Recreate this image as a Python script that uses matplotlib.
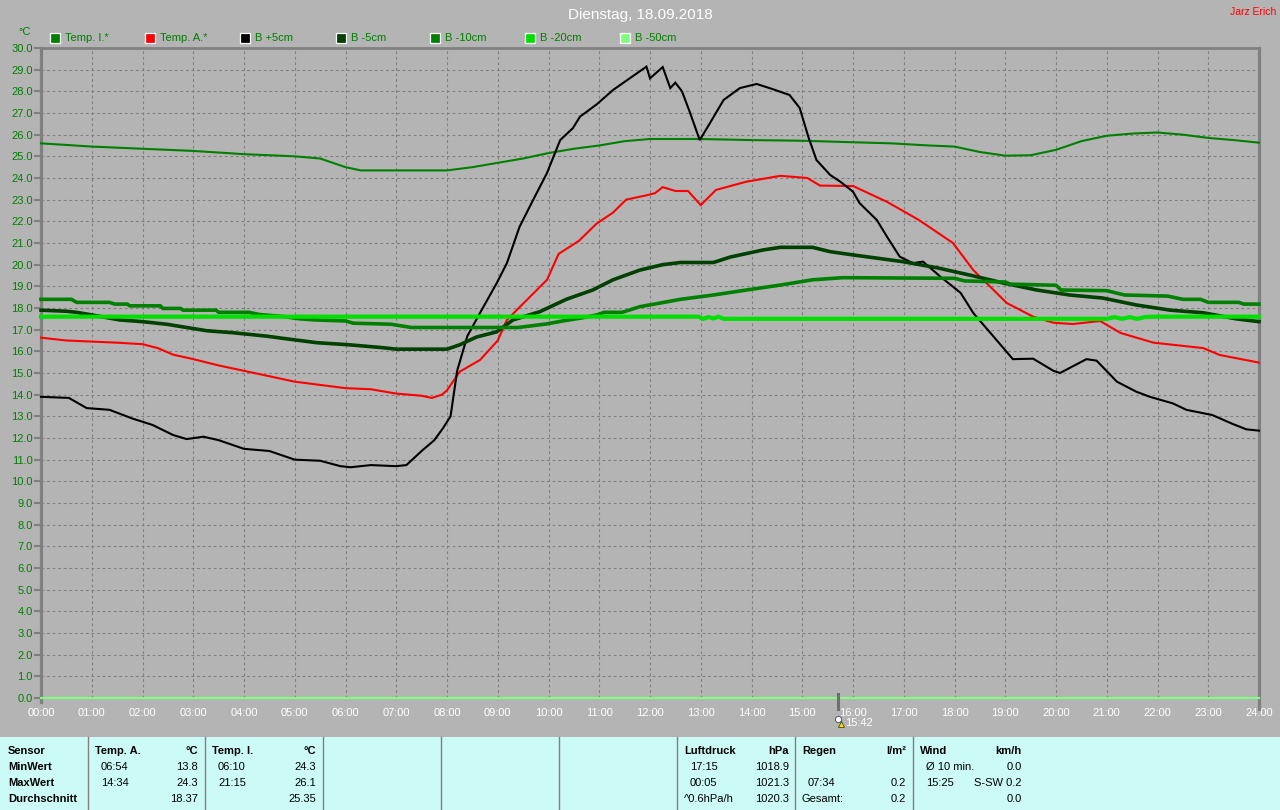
import matplotlib
matplotlib.use("Agg")
import matplotlib.pyplot as plt
from matplotlib.patches import Rectangle
from matplotlib.lines import Line2D

plt.rcParams['font.family'] = ['Liberation Sans', 'DejaVu Sans']

# ---------------- data ----------------
title = "Dienstag, 18.09.2018"
author = "Jarz Erich"
hour_labels = ["%02d:00" % h for h in range(25)]
y_ticks = list(range(31))

series_names = ["Temp. I.*", "Temp. A.*", "B +5cm", "B -5cm", "B -10cm", "B -20cm", "B -50cm"]
series_colors = ["#008000", "#ff0000", "#000000", "#004000", "#008000", "#00e000", "#80ff80"]

t_ti = [0, 1, 2, 3, 4, 5, 5.5, 5.75, 6.0, 6.3, 7, 8, 8.5, 9, 9.5, 10, 10.5, 11, 11.5, 12, 13,
        14, 15, 16, 16.75, 17.5, 18, 18.5, 19, 19.5, 20, 20.5, 21, 21.5, 22, 22.5, 23, 23.5, 24]
v_ti = [25.6, 25.45, 25.35, 25.25, 25.1, 25.0, 24.9, 24.7, 24.5, 24.35, 24.35, 24.35, 24.5, 24.7,
        24.9, 25.15, 25.35, 25.5, 25.7, 25.8, 25.8, 25.75, 25.72, 25.65, 25.6, 25.5, 25.45, 25.2,
        25.03, 25.05, 25.3, 25.7, 25.95, 26.05, 26.1, 26.0, 25.85, 25.75, 25.63]

t_ta = [0, 0.5, 1, 1.5, 2, 2.3, 2.6, 3, 3.5, 4, 4.5, 5, 5.5, 6, 6.5, 7, 7.5, 7.7, 7.9, 8.0, 8.25,
        8.65, 9.0, 9.18, 9.5, 9.97, 10.2, 10.6, 10.95, 11.27, 11.53, 11.93, 12.1, 12.25, 12.5,
        12.75, 13.0, 13.3, 13.9, 14.57, 15.1, 15.35, 16.0, 16.67, 17.3, 17.97, 18.37, 18.77,
        19.03, 19.55, 19.95, 20.33, 20.87, 21.27, 21.92, 22.9, 23.23, 24]
v_ta = [16.63, 16.5, 16.45, 16.4, 16.33, 16.15, 15.85, 15.64, 15.35, 15.1, 14.85, 14.6, 14.45,
        14.3, 14.25, 14.05, 13.95, 13.85, 14.0, 14.2, 15.06, 15.6, 16.5, 17.45, 18.2, 19.3, 20.5,
        21.1, 21.9, 22.4, 23.0, 23.2, 23.3, 23.58, 23.4, 23.4, 22.75, 23.45, 23.83, 24.1, 24.0,
        23.65, 23.63, 22.9, 22.06, 21.0, 19.75, 18.83, 18.23, 17.6, 17.32, 17.26, 17.4, 16.85,
        16.4, 16.15, 15.83, 15.48]

t_b5 = [0, 0.55, 0.9, 1.35, 1.8, 2.2, 2.6, 2.87, 3.2, 3.5, 4, 4.5, 5, 5.5, 5.9, 6.1, 6.5, 7, 7.2,
        7.5, 7.75, 7.92, 8.07, 8.2, 8.4, 8.65, 8.98, 9.18, 9.43, 9.7, 9.97, 10.23, 10.48, 10.62,
        10.95, 11.27, 11.6, 11.93, 12.0, 12.25, 12.4, 12.5, 12.63, 12.78, 12.98, 13.18, 13.45,
        13.77, 14.1, 14.42, 14.75, 14.95, 15.12, 15.28, 15.55, 15.75, 16.0, 16.13, 16.47, 16.67,
        16.92, 17.18, 17.38, 17.72, 18.12, 18.37, 18.77, 19.15, 19.55, 19.95, 20.08, 20.6, 20.8,
        21.2, 21.58, 21.85, 22.3, 22.57, 23.08, 23.48, 23.75, 24]
v_b5 = [13.9, 13.85, 13.38, 13.3, 12.9, 12.6, 12.14, 11.95, 12.06, 11.9, 11.5, 11.4, 11.0, 10.95,
        10.7, 10.65, 10.75, 10.7, 10.75, 11.4, 11.9, 12.45, 13.0, 15.1, 16.7, 17.77, 19.15, 20.07,
        21.75, 23.0, 24.23, 25.75, 26.3, 26.83, 27.4, 28.06, 28.6, 29.14, 28.6, 29.12, 28.15,
        28.4, 28.0, 27.07, 25.75, 26.53, 27.6, 28.15, 28.34, 28.1, 27.83, 27.23, 25.9, 24.83,
        24.14, 23.83, 23.37, 22.84, 22.06, 21.29, 20.37, 20.07, 20.14, 19.45, 18.7, 17.77, 16.68,
        15.64, 15.66, 15.1, 15.0, 15.64, 15.57, 14.6, 14.14, 13.9, 13.6, 13.3, 13.06, 12.65,
        12.4, 12.34]

t_bm5 = [0, 0.5, 0.7, 1.0, 1.55, 2.0, 2.48, 2.87, 3.27, 3.78, 4.45, 4.83, 5.43, 6.08, 6.73, 7.0,
         8.0, 8.25, 8.58, 8.98, 9.3, 9.83, 10.35, 10.87, 11.27, 11.8, 12.25, 12.6, 13.25, 13.58,
         14.23, 14.57, 15.2, 15.55, 16.0, 16.98, 17.65, 18.3, 18.97, 19.62, 20.27, 20.92, 21.58,
         22.25, 22.9, 23.55, 24]
v_bm5 = [17.9, 17.85, 17.8, 17.68, 17.45, 17.37, 17.25, 17.1, 16.95, 16.86, 16.7, 16.58, 16.4,
         16.3, 16.17, 16.1, 16.1, 16.3, 16.66, 16.9, 17.45, 17.83, 18.4, 18.83, 19.3, 19.75, 20.0,
         20.1, 20.1, 20.35, 20.68, 20.8, 20.8, 20.6, 20.45, 20.14, 19.86, 19.52, 19.15, 18.83,
         18.6, 18.46, 18.14, 17.9, 17.78, 17.5, 17.37]

t_bm10 = [0, 0.6, 0.7, 1.35, 1.45, 1.7, 1.75, 2.35, 2.4, 2.75, 2.8, 3.45, 3.5, 4.1, 4.3, 4.8, 5.1,
          5.4, 6.0, 6.15, 6.9, 7.3, 9.4, 9.95, 10.3, 10.65, 10.95, 11.1, 11.45, 11.8, 12.25, 12.6,
          13.25, 13.9, 14.57, 15.2, 15.8, 18.0, 18.2, 19.0, 19.1, 20.0, 20.1, 21.0, 21.35, 22.2,
          22.5, 22.85, 23.0, 23.6, 23.7, 24]
v_bm10 = [18.4, 18.4, 18.26, 18.26, 18.18, 18.18, 18.1, 18.1, 17.98, 17.98, 17.9, 17.9, 17.8,
          17.8, 17.7, 17.6, 17.5, 17.45, 17.4, 17.3, 17.25, 17.1, 17.1, 17.26, 17.41, 17.54,
          17.68, 17.8, 17.8, 18.06, 18.25, 18.4, 18.6, 18.83, 19.06, 19.3, 19.4, 19.37, 19.25,
          19.2, 19.1, 19.05, 18.83, 18.8, 18.6, 18.55, 18.4, 18.4, 18.26, 18.26, 18.18, 18.18]

t_bm20 = [0, 12.95, 13.05, 13.15, 13.25, 13.35, 13.45, 13.6, 21.0, 21.15, 21.3, 21.45, 21.6,
          21.75, 21.9, 24]
v_bm20 = [17.6, 17.6, 17.5, 17.58, 17.52, 17.6, 17.5, 17.5, 17.5, 17.58, 17.5, 17.58, 17.5,
          17.58, 17.6, 17.6]

t_bm50 = [0, 24]
v_bm50 = [0.0, 0.0]

marker_time = 15.7
marker_label = "15:42"

table_rows = ["Sensor", "MinWert", "MaxWert", "Durchschnitt"]
ta_col = [("Temp. A.", "°C"), ("06:54", "13.8"), ("14:34", "24.3"), ("", "18.37")]
ti_col = [("Temp. I.", "°C"), ("06:10", "24.3"), ("21:15", "26.1"), ("", "25.35")]
lp_col = [("Luftdruck", "hPa"), ("17:15", "1018.9"), ("00:05", "1021.3"), ("^0.6hPa/h", "1020.3")]
rg_col = [("Regen", "l/m²"), ("", ""), ("07:34", "0.2"), ("Gesamt:", "0.2")]
wd_col = [("Wind", "km/h"), ("Ø 10 min.", "0.0"), ("15:25", "S-SW 0.2"), ("", "0.0")]

# ---------------- figure ----------------
W, H = 1280, 810
BG = "#b4b4b4"
fig = plt.figure(figsize=(W / 100, H / 100), dpi=100, facecolor=BG)


def fx(px):
    return px / W


def fy(py):
    return 1 - py / H


ax = fig.add_axes([fx(41), fy(698), fx(1259) - fx(41), fy(48) - fy(698)], facecolor=BG)
ax.set_xlim(0, 24)
ax.set_ylim(0, 30)
ax.set_xticks(range(25))
ax.set_xticklabels(hour_labels)
ax.set_yticks(y_ticks)
ax.set_yticklabels(["%.1f" % v for v in y_ticks])
ax.grid(True, color="#808080", linestyle=(0, (2.5, 2.5)), linewidth=0.8)
ax.set_axisbelow(True)
ax.tick_params(axis='x', colors='white', labelsize=8, length=0, pad=7)
ax.tick_params(axis='y', colors='#808080', labelcolor='#008000', labelsize=8, length=5,
               width=1.5, pad=1)
for s in ("left", "right"):
    ax.spines[s].set_color("#808080")
    ax.spines[s].set_linewidth(2.3)
ax.spines["top"].set_color("#808080")
ax.spines["top"].set_linewidth(2.0)
ax.spines["bottom"].set_visible(False)
ax.spines["left"].set_bounds(-0.2, 30)
ax.spines["right"].set_bounds(-0.5, 30)

series = [(t_ti, v_ti, 1.5), (t_ta, v_ta, 1.5), (t_b5, v_b5, 1.5), (t_bm5, v_bm5, 2.6),
          (t_bm10, v_bm10, 2.6), (t_bm20, v_bm20, 3.0), (t_bm50, v_bm50, 1.5)]
for i, (tt, vv, lw) in enumerate(series):
    ax.plot(tt, vv, color=series_colors[i], linewidth=lw, zorder=3 + i, clip_on=False,
            solid_joinstyle='miter')

# marker at 15:42
ax.add_line(Line2D([marker_time, marker_time], [-0.0, 0], color="#707070"))
fig.add_artist(Line2D([fx(41 + marker_time * 50.75)] * 2, [fy(694), fy(709)],
                      color="#6e6e6e", linewidth=2.2))
fig.text(fx(845), fy(723), marker_label, color="white", fontsize=8, va="center", ha="left")
fig.add_artist(Line2D([fx(838)], [fy(719)], marker="o", markersize=4.5, color="white",
                      markeredgecolor="#404060", markeredgewidth=0.6))
fig.add_artist(Line2D([fx(841)], [fy(724)], marker="^", markersize=5, color="#ffe000",
                      markeredgecolor="#303000", markeredgewidth=0.5))

# title and author
fig.text(0.5, fy(15), title, color="white", fontsize=11, ha="center", va="center")
fig.text(fx(1276), fy(12), author, color="#ff0000", fontsize=7.5, ha="right", va="center")
fig.text(fx(25), fy(32), "°C", color="#008000", fontsize=8, ha="center", va="center")

# legend
leg_x = [50, 145, 240, 336, 430, 525, 620]
for i, name in enumerate(series_names):
    x0 = leg_x[i]
    fig.add_artist(Rectangle((fx(x0), fy(43)), fx(10), 10 / H, transform=fig.transFigure,
                             facecolor=series_colors[i], edgecolor="white", linewidth=0.9))
    fig.text(fx(x0 + 15), fy(38), name, color="#008000", fontsize=8, ha="left", va="center")

# table
CY = "#ccfbf7"
fig.add_artist(Rectangle((0, 0), 1, fy(737), transform=fig.transFigure, facecolor=CY,
                         edgecolor="none"))
for sx in [88, 205, 323, 441, 559, 677, 795, 913]:
    fig.add_artist(Line2D([fx(sx), fx(sx)], [fy(737), 0], color="#808080", linewidth=1.0))

row_y = [751, 767, 783, 799]
for r, lab in enumerate(table_rows):
    fig.text(fx(8), fy(row_y[r]), lab, fontsize=8, fontweight="bold", color="black",
             va="center", ha="left")


def put_col(col, xl_head, xl_val, xr):
    for r, (a, b) in enumerate(col):
        bold = "bold" if r == 0 else "normal"
        xl = xl_head if (r == 0 or a in ("^0.6hPa/h", "Gesamt:")) else xl_val
        if a:
            fig.text(fx(xl), fy(row_y[r]), a, fontsize=8, fontweight=bold, color="black",
                     va="center", ha="left")
        if b:
            fig.text(fx(xr), fy(row_y[r]), b, fontsize=8, fontweight=bold, color="black",
                     va="center", ha="right")


put_col(ta_col, 95, 101, 198)
put_col(ti_col, 212, 218, 316)
put_col(lp_col, 684, 690, 789)
put_col(rg_col, 802, 808, 906)
put_col(wd_col, 920, 926, 1022)

fig.savefig("out.png", dpi=100, facecolor=BG)
